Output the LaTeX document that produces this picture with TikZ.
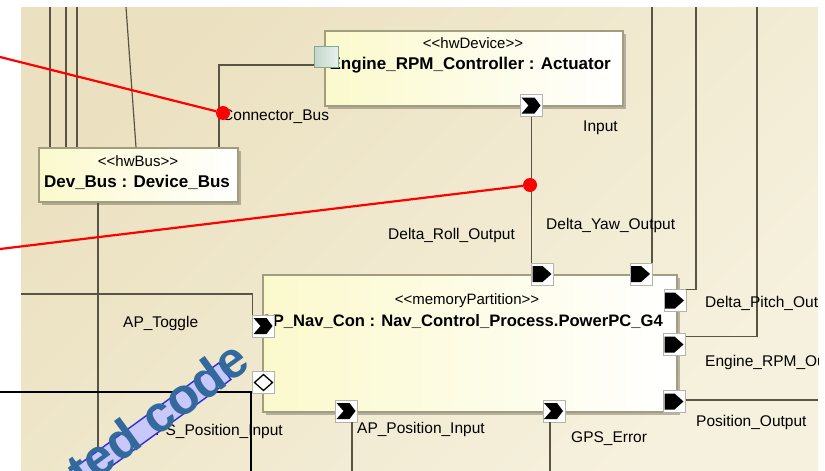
\documentclass[tikz,border=0pt]{standalone}
\usepackage{fontspec}
\setmainfont{Liberation Sans}
\newfontfamily\stfont[Ligatures=TeXOff]{Liberation Sans}
\usetikzlibrary{shadows,calc}

\definecolor{bgA}{HTML}{EBE1C0}
\definecolor{bgB}{HTML}{F6F1DE}
\definecolor{wirec}{HTML}{5A5444}
\definecolor{boxline}{HTML}{A09E7E}
\definecolor{boxfill}{HTML}{FBF9CC}
\definecolor{portline}{HTML}{B4B4AA}
\definecolor{busfillA}{HTML}{C2D6CA}
\definecolor{busfillB}{HTML}{E8F0EC}
\definecolor{busline}{HTML}{86A68E}
\definecolor{wmfill}{HTML}{C8C8FA}
\definecolor{wmline}{HTML}{2E2EDC}
\definecolor{wmtext}{HTML}{33699C}
\definecolor{mark}{HTML}{FF0000}

\tikzset{
  x=1pt, y=-1pt,
  wire/.style={draw=wirec, line width=1.2pt},
  box/.style={draw=boxline, line width=1.3pt, left color=boxfill, right color=white,
    inner sep=0, drop shadow={shadow xshift=3pt, shadow yshift=-3pt, fill=black, opacity=0.25}},
  portbox/.style={draw=portline, fill=white, line width=0.7pt, minimum width=22pt,
    minimum height=22pt, inner sep=0, outer sep=0},
  outport/.style={portbox, path picture={
    \fill[black, shift={(path picture bounding box.center)}]
      (-10,-8) -- (0,-8) -- (9,0) -- (0,8) -- (-10,8) -- cycle;}},
  inport/.style={portbox, path picture={
    \fill[black, shift={(path picture bounding box.center)}]
      (-10,-8) -- (3,-8) -- (9,0) -- (3,8) -- (-10,8) -- (-3,0) -- cycle;}},
  diaport/.style={portbox, path picture={
    \draw[black, line width=1.3pt, shift={(path picture bounding box.center)}]
      (-9,0) -- (0,-8) -- (9,0) -- (0,8) -- cycle;}},
  busport/.style={draw=busline, line width=1pt, left color=busfillA, right color=busfillB,
    minimum width=24pt, minimum height=21pt, inner sep=0, outer sep=0},
  lbl/.style={font=\fontsize{15.5}{18}\selectfont, inner sep=0, text height=11.5pt, text depth=0pt},
  ttl/.style={font=\fontsize{17}{20}\selectfont\bfseries, inner sep=0, text height=12pt, text depth=0pt},
  stereo/.style={font=\stfont\fontsize{15}{17}\selectfont, inner sep=0, text height=10.5pt, text depth=0pt},
  redline/.style={draw=mark, line width=2.2pt},
  reddot/.style={circle, fill=mark, minimum size=14pt, inner sep=0},
}

\begin{document}
\begin{tikzpicture}
\useasboundingbox (0,0) rectangle (825,471);
\fill[white] (0,0) rectangle (825,471);

\begin{scope}
  \clip (21,7) rectangle (818,471);
  \shade[top color=bgA, bottom color=bgB, shading angle=45] (21,7) rectangle (818,471);

  % blocks
  \node[box, minimum width=199pt, minimum height=54pt] (devbus) at (138.5,175) {};
  \node[box, minimum width=298pt, minimum height=75pt] (engine) at (474,68.5) {};
  \node[box, minimum width=414pt, minimum height=137pt] (nav) at (470,343.5) {};

  % wire end points at the frame border
  \coordinate (t1) at (50,7);
  \coordinate (t2) at (66,7);
  \coordinate (t3) at (77,7);
  \coordinate (t4) at (126,7);
  \coordinate (s4) at (136,7);
  \coordinate (cbx) at (219,65);
  \coordinate (tyaw) at (652,7);
  \coordinate (tpitch) at (696,7);
  \coordinate (trpm) at (757,7);
  \coordinate (rpos) at (818,400);
  \coordinate (ltog) at (21,294);
  \coordinate (bbus) at (98,471);
  \coordinate (bapi) at (352,471);
  \coordinate (bgps) at (550,471);

  % ports
  \node[busport] (bport) at (326,56.5) {};
  \node[inport] (ein) at (531.5,105.5) {};
  \node[outport] (nroll) at (542.5,274) {};
  \node[outport] (nyaw) at (641,274) {};
  \node[outport] (npitch) at (675,300.5) {};
  \node[outport] (nrpm) at (674.5,344.5) {};
  \node[outport] (npos) at (674.5,401.5) {};
  \node[inport] (ntog) at (263.5,326) {};
  \node[diaport] (ndia) at (263.5,382.5) {};
  \node[inport] (napi) at (346.5,411) {};
  \node[inport] (ngps) at (554,411) {};

  % connectors
  \draw[wire] (t1) -- (t1 |- devbus.north);
  \draw[wire] (t2) -- (t2 |- devbus.north);
  \draw[wire] (t3) -- (t3 |- devbus.north);
  \draw[wire] (t4) -- (devbus.north -| s4);
  \draw[wire] (devbus.north -| cbx) |- (bport.west |- cbx);
  \draw[wire] (devbus.south -| bbus) -- (bbus);
  \draw[wire] (ein.south) -- (ein.south |- nroll.north);
  \draw[wire] (tyaw) -- (nyaw.north east);
  \draw[wire] (tpitch) |- (npitch.north east);
  \draw[wire] (trpm) |- ([yshift=-3pt]nrpm.north east);
  \draw[wire] (npos.east |- rpos) -- (rpos);
  \draw[wire] (ltog) -| (ntog.north west);
  \draw[wire] (napi.south -| bapi) -- (bapi);
  \draw[wire] (ngps.south -| bgps) -- (bgps);

  % block texts
  \node[stereo] (st1) at (138,161) {<<hwBus>>};
  \node[ttl] (tt1) at (137,181) {Dev\_Bus : Device\_Bus};
  \node[stereo] (st2) at (473,43) {<<hwDevice>>};
  \node[ttl, anchor=east] (tt2) at (611,63) {Engine\_RPM\_Controller : Actuator};
  \node[stereo] (st3) at (467,299) {<<memoryPartition>>};
  \node[ttl, anchor=east, font=\fontsize{16.6}{20}\selectfont\bfseries] (tt3) at (663,320)
    {AP\_Nav\_Con : Nav\_Control\_Process.PowerPC\_G4};

  % ports that sit over the block texts are drawn again on top
  \node[busport] at (bport) {};
  \node[inport] at (ntog) {};

  % wire labels
  \node[lbl, anchor=west] (l1) at (222,115) {Connector\_Bus};
  \node[lbl, anchor=west] (l2) at (583,126) {Input};
  \node[lbl, anchor=west] (l3) at (388,234) {Delta\_Roll\_Output};
  \node[lbl, anchor=west] (l4) at (546,224) {Delta\_Yaw\_Output};
  \node[lbl, anchor=west] (l5) at (705,302) {Delta\_Pitch\_Output};
  \node[lbl, anchor=west] (l6) at (705,361) {Engine\_RPM\_Output};
  \node[lbl, anchor=west] (l7) at (696,421) {Position\_Output};
  \node[lbl, anchor=west] (l8) at (571,437) {GPS\_Error};
  \node[lbl, anchor=west] (l9) at (357,428) {AP\_Position\_Input};
  \node[lbl, anchor=west] (l10) at (123,322) {AP\_Toggle};
  \node[lbl, anchor=east] (l11) at (283,430) {GPS\_Position\_Input};
\end{scope}

% red markers
\coordinate (rs1) at (0,57);
\coordinate (rs2) at (0,249);
\node[reddot] (rd1) at (223,113) {};
\node[reddot] (rd2) at (530,185) {};
\draw[redline] (rs1) -- (rd1);
\draw[redline] (rs2) -- (rd2);

% black frame corner
\coordinate (bk1) at (0,392);
\coordinate (bk2) at (251,471);
\draw[black, line width=2pt] (bk1) -| (bk2);

% watermark
\begin{scope}
  \clip (0,0) rectangle (825,471);
  \begin{scope}[shift={(251,368)}, rotate=36]
    \filldraw[fill=wmfill, draw=wmline, line width=1.4pt] (-330,-23) rectangle (-23,-2.5);
  \end{scope}
  \node[rotate=36, anchor=base east, inner sep=0, text=wmtext,
        font=\fontsize{51}{56}\selectfont\bfseries] (wm) at (253,367) {ted code};
\end{scope}
\end{tikzpicture}
\end{document}
